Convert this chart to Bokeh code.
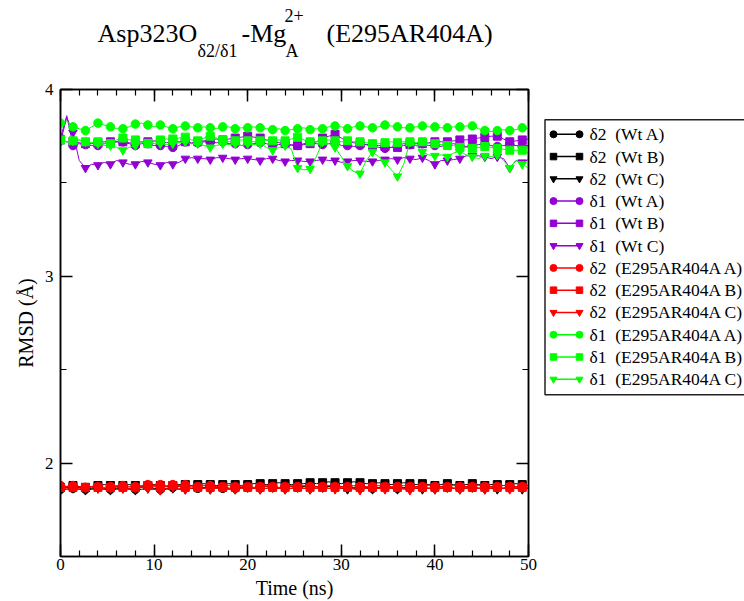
import numpy as np
from bokeh.plotting import figure
from bokeh.models import Range1d, LinearAxis, SingleIntervalTicker, CustomJSTickFormatter
from bokeh.layouts import column, row
from bokeh.embed import file_html
from bokeh.resources import INLINE
from bokeh.core.properties import value

# ---------------- data (RMSD in Angstrom, sampled every 2/3 ns from 0 to 50 ns) ----------------
wt_d2_A = [1.86, 1.87, 1.865, 1.87, 1.86, 1.865, 1.87, 1.865, 1.86, 1.865,
           1.87, 1.865, 1.86, 1.87, 1.875, 1.865, 1.86, 1.865, 1.87, 1.875,
           1.87, 1.865, 1.865, 1.87, 1.875, 1.87, 1.865, 1.86, 1.865, 1.87,
           1.87, 1.865, 1.87, 1.875, 1.87, 1.865, 1.87, 1.875, 1.87, 1.875,
           1.88, 1.875, 1.87, 1.875, 1.88, 1.875, 1.87, 1.87, 1.875, 1.87,
           1.865, 1.87, 1.875, 1.87, 1.865, 1.87, 1.87, 1.875, 1.87, 1.865,
           1.87, 1.875, 1.87, 1.865, 1.87, 1.875, 1.87, 1.865, 1.87, 1.875,
           1.87, 1.865, 1.87, 1.875, 1.87, 1.865]
wt_d2_B = [1.87, 1.875, 1.88, 1.875, 1.87, 1.875, 1.88, 1.885, 1.88, 1.875,
           1.88, 1.885, 1.88, 1.875, 1.88, 1.885, 1.88, 1.875, 1.88, 1.885,
           1.885, 1.88, 1.885, 1.89, 1.885, 1.88, 1.885, 1.89, 1.885, 1.88,
           1.885, 1.89, 1.89, 1.885, 1.89, 1.895, 1.89, 1.885, 1.89, 1.89,
           1.895, 1.89, 1.895, 1.90, 1.895, 1.89, 1.895, 1.90, 1.895, 1.89,
           1.89, 1.895, 1.89, 1.885, 1.89, 1.895, 1.89, 1.885, 1.89, 1.885,
           1.88, 1.885, 1.89, 1.885, 1.88, 1.885, 1.89, 1.885, 1.88, 1.885,
           1.885, 1.88, 1.885, 1.89, 1.885, 1.88]
wt_d2_C = [1.855, 1.86, 1.865, 1.86, 1.855, 1.86, 1.865, 1.86, 1.855, 1.86,
           1.865, 1.86, 1.855, 1.86, 1.865, 1.86, 1.855, 1.86, 1.865, 1.86,
           1.86, 1.865, 1.87, 1.865, 1.86, 1.865, 1.87, 1.865, 1.86, 1.865,
           1.87, 1.865, 1.86, 1.865, 1.87, 1.865, 1.86, 1.865, 1.87, 1.865,
           1.86, 1.865, 1.87, 1.875, 1.87, 1.865, 1.86, 1.865, 1.87, 1.865,
           1.86, 1.865, 1.87, 1.865, 1.86, 1.865, 1.87, 1.865, 1.86, 1.865,
           1.86, 1.865, 1.87, 1.865, 1.86, 1.865, 1.87, 1.865, 1.86, 1.865,
           1.86, 1.865, 1.87, 1.865, 1.86, 1.865]
wt_d1_A = [3.74, 3.86, 3.70, 3.71, 3.705, 3.70, 3.70, 3.71, 3.715, 3.72,
           3.72, 3.71, 3.70, 3.71, 3.71, 3.70, 3.70, 3.695, 3.69, 3.70,
           3.72, 3.71, 3.715, 3.72, 3.72, 3.715, 3.72, 3.71, 3.71, 3.70,
           3.705, 3.71, 3.715, 3.71, 3.70, 3.705, 3.71, 3.70, 3.70, 3.71,
           3.715, 3.71, 3.705, 3.71, 3.72, 3.70, 3.70, 3.695, 3.70, 3.705,
           3.70, 3.69, 3.685, 3.69, 3.70, 3.71, 3.705, 3.70, 3.71, 3.70,
           3.70, 3.695, 3.705, 3.71, 3.70, 3.695, 3.70, 3.705, 3.71, 3.70,
           3.695, 3.70, 3.705, 3.70, 3.695, 3.70]
wt_d1_B = [3.73, 3.72, 3.72, 3.715, 3.71, 3.71, 3.715, 3.72, 3.72, 3.72,
           3.72, 3.715, 3.71, 3.72, 3.72, 3.725, 3.72, 3.715, 3.72, 3.72,
           3.72, 3.715, 3.72, 3.725, 3.73, 3.735, 3.73, 3.735, 3.74, 3.745,
           3.75, 3.745, 3.74, 3.73, 3.72, 3.715, 3.71, 3.705, 3.70, 3.705,
           3.71, 3.72, 3.74, 3.75, 3.76, 3.74, 3.72, 3.715, 3.71, 3.705,
           3.70, 3.70, 3.695, 3.69, 3.69, 3.70, 3.705, 3.71, 3.71, 3.715,
           3.72, 3.72, 3.72, 3.725, 3.73, 3.73, 3.735, 3.74, 3.745, 3.75,
           3.75, 3.735, 3.72, 3.725, 3.73, 3.735]
wt_d1_C = [3.72, 3.85, 3.77, 3.62, 3.58, 3.60, 3.595, 3.61, 3.60, 3.62,
           3.61, 3.60, 3.60, 3.615, 3.61, 3.60, 3.595, 3.61, 3.60, 3.61,
           3.63, 3.635, 3.63, 3.63, 3.625, 3.635, 3.635, 3.63, 3.625, 3.63,
           3.63, 3.625, 3.62, 3.63, 3.63, 3.62, 3.615, 3.62, 3.62, 3.615,
           3.615, 3.62, 3.625, 3.62, 3.62, 3.61, 3.615, 3.62, 3.62, 3.615,
           3.615, 3.62, 3.625, 3.63, 3.625, 3.635, 3.63, 3.625, 3.635, 3.62,
           3.60, 3.62, 3.62, 3.625, 3.63, 3.645, 3.645, 3.645, 3.64, 3.63,
           3.64, 3.63, 3.58, 3.62, 3.61, 3.625]
mut_d2_A = [1.88, 1.875, 1.88, 1.875, 1.87, 1.875, 1.875, 1.87, 1.875, 1.88,
            1.88, 1.875, 1.875, 1.88, 1.885, 1.88, 1.885, 1.88, 1.885, 1.88,
            1.885, 1.88, 1.875, 1.88, 1.88, 1.875, 1.875, 1.88, 1.875, 1.88,
            1.875, 1.87, 1.875, 1.88, 1.875, 1.87, 1.875, 1.88, 1.875, 1.88,
            1.875, 1.87, 1.875, 1.88, 1.875, 1.87, 1.875, 1.88, 1.875, 1.87,
            1.875, 1.88, 1.875, 1.87, 1.875, 1.88, 1.875, 1.87, 1.875, 1.88,
            1.875, 1.87, 1.875, 1.88, 1.875, 1.87, 1.875, 1.88, 1.875, 1.87,
            1.875, 1.88, 1.875, 1.87, 1.875, 1.88]
mut_d2_B = [1.87, 1.875, 1.87, 1.865, 1.87, 1.875, 1.87, 1.865, 1.87, 1.875,
            1.87, 1.865, 1.87, 1.875, 1.88, 1.875, 1.87, 1.875, 1.88, 1.875,
            1.87, 1.875, 1.87, 1.865, 1.87, 1.875, 1.87, 1.865, 1.87, 1.875,
            1.87, 1.865, 1.87, 1.875, 1.87, 1.865, 1.87, 1.875, 1.87, 1.865,
            1.87, 1.875, 1.87, 1.865, 1.87, 1.875, 1.87, 1.865, 1.87, 1.875,
            1.87, 1.865, 1.87, 1.875, 1.87, 1.865, 1.87, 1.875, 1.87, 1.865,
            1.87, 1.875, 1.87, 1.865, 1.87, 1.875, 1.87, 1.865, 1.87, 1.875,
            1.87, 1.865, 1.87, 1.875, 1.87, 1.865]
mut_d2_C = [1.87, 1.865, 1.87, 1.86, 1.865, 1.87, 1.865, 1.86, 1.865, 1.87,
            1.865, 1.86, 1.865, 1.87, 1.865, 1.86, 1.855, 1.865, 1.87, 1.865,
            1.86, 1.865, 1.87, 1.865, 1.86, 1.865, 1.87, 1.865, 1.86, 1.865,
            1.87, 1.865, 1.86, 1.865, 1.87, 1.865, 1.86, 1.865, 1.87, 1.865,
            1.86, 1.865, 1.87, 1.865, 1.86, 1.865, 1.87, 1.86, 1.855, 1.865,
            1.87, 1.865, 1.86, 1.865, 1.87, 1.86, 1.855, 1.865, 1.87, 1.865,
            1.86, 1.865, 1.87, 1.865, 1.86, 1.865, 1.87, 1.865, 1.86, 1.865,
            1.87, 1.865, 1.86, 1.865, 1.87, 1.865]
mut_d1_A = [3.82, 3.83, 3.80, 3.79, 3.78, 3.80, 3.82, 3.81, 3.80, 3.79,
            3.79, 3.80, 3.815, 3.82, 3.81, 3.80, 3.81, 3.80, 3.79, 3.80,
            3.805, 3.80, 3.795, 3.80, 3.795, 3.79, 3.80, 3.80, 3.79, 3.795,
            3.795, 3.80, 3.795, 3.79, 3.785, 3.79, 3.78, 3.785, 3.79, 3.795,
            3.785, 3.79, 3.79, 3.80, 3.805, 3.80, 3.79, 3.80, 3.805, 3.80,
            3.795, 3.80, 3.81, 3.805, 3.80, 3.795, 3.795, 3.80, 3.805, 3.80,
            3.80, 3.795, 3.795, 3.80, 3.80, 3.805, 3.805, 3.79, 3.78, 3.775,
            3.78, 3.785, 3.78, 3.785, 3.795, 3.79]
mut_d1_B = [3.73, 3.72, 3.725, 3.73, 3.72, 3.715, 3.72, 3.71, 3.71, 3.73,
            3.74, 3.73, 3.73, 3.72, 3.71, 3.72, 3.73, 3.735, 3.735, 3.74,
            3.745, 3.73, 3.725, 3.74, 3.75, 3.74, 3.73, 3.72, 3.725, 3.73,
            3.725, 3.72, 3.725, 3.73, 3.725, 3.73, 3.725, 3.735, 3.745, 3.73,
            3.72, 3.72, 3.725, 3.73, 3.725, 3.72, 3.725, 3.72, 3.72, 3.715,
            3.71, 3.71, 3.715, 3.72, 3.715, 3.72, 3.72, 3.715, 3.72, 3.71,
            3.71, 3.705, 3.70, 3.70, 3.69, 3.69, 3.685, 3.69, 3.695, 3.69,
            3.685, 3.68, 3.675, 3.675, 3.675, 3.66]
mut_d1_C = [3.73, 3.72, 3.725, 3.73, 3.72, 3.715, 3.71, 3.70, 3.70, 3.69,
            3.675, 3.69, 3.70, 3.715, 3.72, 3.71, 3.71, 3.705, 3.71, 3.715,
            3.72, 3.71, 3.71, 3.70, 3.69, 3.70, 3.71, 3.705, 3.71, 3.70,
            3.71, 3.705, 3.71, 3.69, 3.675, 3.69, 3.70, 3.68, 3.58, 3.57,
            3.575, 3.64, 3.72, 3.71, 3.69, 3.64, 3.59, 3.56, 3.55, 3.62,
            3.665, 3.64, 3.61, 3.57, 3.535, 3.60, 3.72, 3.70, 3.665, 3.65,
            3.645, 3.65, 3.64, 3.66, 3.67, 3.65, 3.64, 3.63, 3.645, 3.64,
            3.65, 3.62, 3.58, 3.62, 3.60, 3.58]

labels = ["δ2\u00a0\u00a0(Wt A)", "δ2\u00a0\u00a0(Wt B)", "δ2\u00a0\u00a0(Wt C)",
          "δ1\u00a0\u00a0(Wt A)", "δ1\u00a0\u00a0(Wt B)", "δ1\u00a0\u00a0(Wt C)",
          "δ2\u00a0\u00a0(E295AR404A A)", "δ2\u00a0\u00a0(E295AR404A B)", "δ2\u00a0\u00a0(E295AR404A C)",
          "δ1\u00a0\u00a0(E295AR404A A)", "δ1\u00a0\u00a0(E295AR404A B)", "δ1\u00a0\u00a0(E295AR404A C)"]
values_list = [wt_d2_A, wt_d2_B, wt_d2_C, wt_d1_A, wt_d1_B, wt_d1_C,
               mut_d2_A, mut_d2_B, mut_d2_C, mut_d1_A, mut_d1_B, mut_d1_C]
colors = ["#000000", "#000000", "#000000", "#9400D3", "#9400D3", "#9400D3",
          "#FF0000", "#FF0000", "#FF0000", "#00FF00", "#00FF00", "#00FF00"]
markers = ["circle", "square", "inverted_triangle"] * 4
msizes = {"circle": 8.5, "square": 8, "inverted_triangle": 8.5}

SERIF = "Liberation Serif"
TITLE_H = 62
BORDER_TOP = 27
BORDER_BOTTOM = 43
MAIN_H = 601 - TITLE_H

# ---------------- title strip (page pixel coordinates) ----------------
tfig = figure(width=744, height=TITLE_H, x_range=Range1d(0, 744), y_range=Range1d(TITLE_H, 0),
              output_backend="svg", toolbar_location=None, x_axis_type=None, y_axis_type=None,
              min_border=0, outline_line_color=None)
tfig.grid.visible = False
title_big = dict(text_font=value(SERIF), text_font_size=value("26px"),
                 text_baseline="middle", text_align="left", text_color="black")
title_small = dict(text_font=value(SERIF), text_font_size=value("18px"),
                   text_baseline="middle", text_align="left", text_color="black")
tfig.text(x=[97, 241, 326], y=[33, 33, 33], text=["Asp323O", "-Mg", "(E295AR404A)"], **title_big)
tfig.text(x=[197, 284, 285], y=[50, 15, 50], text=["δ2/δ1", "2+", "A"], **title_small)

# ---------------- main plot ----------------
p = figure(width=540, height=MAIN_H, x_range=Range1d(0, 50), y_range=Range1d(1.5, 4),
           output_backend="svg", toolbar_location=None,
           min_border_left=60, min_border_right=12, min_border_top=BORDER_TOP,
           min_border_bottom=BORDER_BOTTOM)
p.xgrid.visible = False
p.ygrid.visible = False
p.outline_line_color = "black"
p.outline_line_width = 1.5

bottom = p.xaxis[0]
left = p.yaxis[0]
bottom.ticker = SingleIntervalTicker(interval=10, num_minor_ticks=5)
left.ticker = SingleIntervalTicker(interval=1, num_minor_ticks=2)
bottom.axis_label = "Time (ns)"
left.axis_label = "RMSD (Å)"

blank = CustomJSTickFormatter(code="return ''")
top = LinearAxis(ticker=SingleIntervalTicker(interval=10, num_minor_ticks=5),
                 formatter=blank, major_label_standoff=0, major_label_text_font_size="2px")
right = LinearAxis(ticker=SingleIntervalTicker(interval=1, num_minor_ticks=2),
                   formatter=blank, major_label_standoff=0, major_label_text_font_size="2px")
p.add_layout(top, "above")
p.add_layout(right, "right")

for ax in [bottom, left, top, right]:
    ax.axis_line_color = "black"
    ax.axis_line_width = 1.5
    ax.major_tick_line_color = "black"
    ax.minor_tick_line_color = "black"
    ax.major_tick_line_width = 1.5
    ax.minor_tick_line_width = 1.2
    ax.major_tick_in = 12
    ax.major_tick_out = 0
    ax.minor_tick_in = 6
    ax.minor_tick_out = 0
for ax in [bottom, left]:
    ax.major_label_text_font = SERIF
    ax.major_label_text_font_size = "17px"
    ax.major_label_text_color = "black"
    ax.axis_label_text_font = SERIF
    ax.axis_label_text_font_size = "20px"
    ax.axis_label_text_font_style = "normal"
    ax.axis_label_text_color = "black"
bottom.major_label_standoff = 2
bottom.axis_label_standoff = 4
left.major_label_standoff = 7
left.axis_label_standoff = 5

for vals, col, mk in zip(values_list, colors, markers):
    t = np.linspace(0, 50, len(vals))
    v = np.array(vals)
    p.line(t, v, line_color=col, line_width=1)
    p.scatter(t[::2], v[::2], marker=mk, size=msizes[mk], fill_color=col, line_color=col)

# ---------------- legend panel (page pixel coordinates; frame aligned with main frame) ----------------
frame_top = TITLE_H + BORDER_TOP
frame_bottom = 601 - BORDER_BOTTOM
leg = figure(width=204, height=MAIN_H, x_range=Range1d(540, 744),
             y_range=Range1d(frame_bottom, frame_top),
             output_backend="svg", toolbar_location=None, x_axis_type=None, y_axis_type=None,
             min_border_left=0, min_border_right=0, min_border_top=BORDER_TOP,
             min_border_bottom=BORDER_BOTTOM, outline_line_color=None)
leg.grid.visible = False
leg.quad(left=[544.5], right=[800], top=[119.5], bottom=[395.5],
         fill_color="white", line_color="#222222", line_width=1.5)
n = len(labels)
ys = [134 + 22.36 * i for i in range(n)]
for i in range(n):
    leg.line([553, 579], [ys[i], ys[i]], line_color=colors[i], line_width=1.5)
    leg.scatter([553, 579], [ys[i], ys[i]], marker=markers[i], size=msizes[markers[i]] - 1.5,
                fill_color=colors[i], line_color=colors[i])
leg.text(x=[589] * n, y=ys, text=labels, text_font=value(SERIF), text_font_size=value("17.5px"),
         text_baseline="middle", text_align="left", text_color="black")

layout = column(tfig, row(p, leg))
open("out.html", "w").write(file_html(layout, INLINE))
